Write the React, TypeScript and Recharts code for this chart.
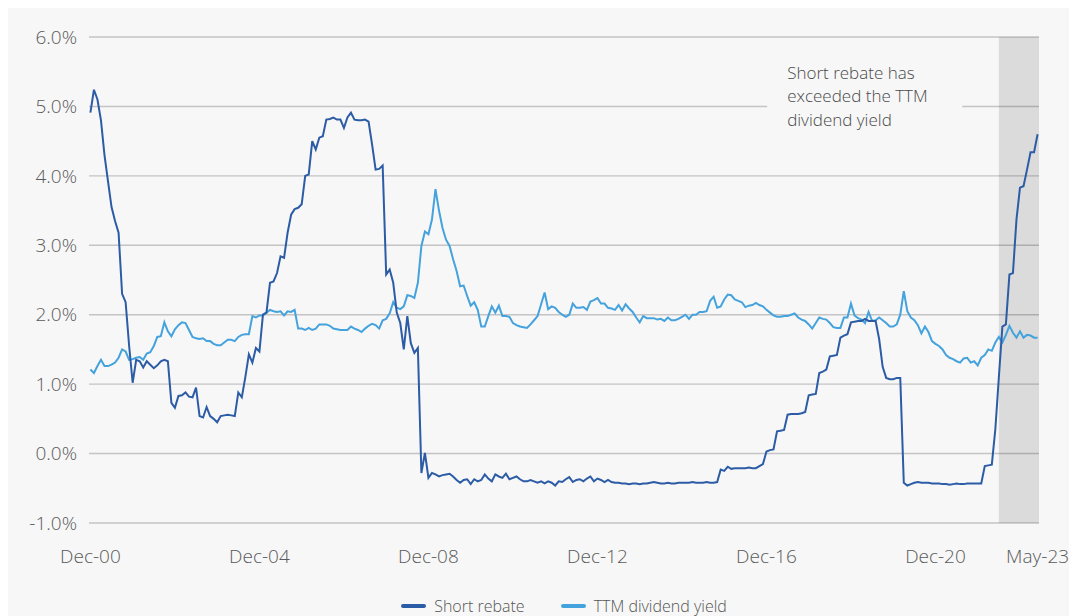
import { LineChart, Line, XAxis, YAxis, CartesianGrid, ReferenceArea, Legend } from 'recharts';

// monthly, Dec-00 (index 0) to May-23 (index 269)
const shortRebate = [
    4.91, 5.24, 5.10, 4.80, 4.30, 3.92, 3.55, 3.35, 3.18, 2.30, 2.18, 1.55,
    1.02, 1.35, 1.33, 1.24, 1.33, 1.28, 1.23, 1.27, 1.33, 1.35, 1.33, 0.73,
    0.66, 0.83, 0.84, 0.88, 0.82, 0.81, 0.95, 0.54, 0.52, 0.67, 0.54, 0.50,
    0.45, 0.54, 0.55, 0.56, 0.55, 0.54, 0.88, 0.81, 1.10, 1.43, 1.31, 1.52,
    1.47, 2.00, 2.03, 2.46, 2.48, 2.60, 2.84, 2.82, 3.18, 3.44, 3.52, 3.54,
    3.59, 4.00, 4.02, 4.50, 4.38, 4.55, 4.57, 4.81, 4.82, 4.84, 4.81, 4.81,
    4.69, 4.84, 4.91, 4.81, 4.80, 4.80, 4.81, 4.78, 4.45, 4.09, 4.10, 4.15,
    2.58, 2.65, 2.46, 2.03, 1.88, 1.50, 1.98, 1.59, 1.45, 1.52, -0.28, 0.01,
    -0.35, -0.28, -0.30, -0.33, -0.31, -0.30, -0.29, -0.33, -0.38, -0.42, -0.38, -0.37,
    -0.44, -0.37, -0.40, -0.38, -0.30, -0.36, -0.40, -0.30, -0.33, -0.35, -0.29, -0.37,
    -0.35, -0.33, -0.37, -0.40, -0.40, -0.38, -0.40, -0.42, -0.40, -0.43, -0.40, -0.42,
    -0.46, -0.40, -0.41, -0.37, -0.34, -0.41, -0.38, -0.37, -0.40, -0.36, -0.33, -0.40,
    -0.36, -0.38, -0.41, -0.38, -0.41, -0.42, -0.42, -0.43, -0.43, -0.44, -0.43, -0.43,
    -0.44, -0.43, -0.43, -0.42, -0.41, -0.42, -0.43, -0.43, -0.42, -0.43, -0.43, -0.42,
    -0.42, -0.42, -0.42, -0.41, -0.42, -0.42, -0.42, -0.41, -0.42, -0.42, -0.41, -0.23,
    -0.25, -0.19, -0.22, -0.21, -0.21, -0.21, -0.21, -0.20, -0.21, -0.21, -0.18, -0.15,
    0.03, 0.05, 0.06, 0.32, 0.33, 0.34, 0.56, 0.57, 0.57, 0.57, 0.58, 0.60,
    0.84, 0.85, 0.86, 1.16, 1.18, 1.21, 1.40, 1.41, 1.42, 1.67, 1.70, 1.72,
    1.89, 1.90, 1.91, 1.91, 1.94, 1.91, 1.91, 1.91, 1.65, 1.25, 1.09, 1.07,
    1.07, 1.09, 1.09, -0.42, -0.46, -0.44, -0.42, -0.41, -0.42, -0.42, -0.42, -0.43,
    -0.43, -0.43, -0.44, -0.44, -0.45, -0.44, -0.43, -0.44, -0.44, -0.43, -0.43, -0.43,
    -0.43, -0.43, -0.18, -0.17, -0.16, 0.35, 1.10, 1.83, 1.86, 2.58, 2.60, 3.37,
    3.83, 3.85, 4.09, 4.34, 4.34, 4.60,
];

const ttmYield = [
    1.21, 1.16, 1.26, 1.35, 1.26, 1.26, 1.28, 1.31, 1.38, 1.50, 1.47, 1.35,
    1.36, 1.38, 1.39, 1.35, 1.44, 1.46, 1.55, 1.68, 1.69, 1.89, 1.76, 1.69,
    1.79, 1.85, 1.89, 1.88, 1.78, 1.68, 1.66, 1.65, 1.66, 1.62, 1.62, 1.58,
    1.56, 1.56, 1.60, 1.64, 1.64, 1.62, 1.68, 1.71, 1.72, 1.72, 1.98, 1.96,
    1.99, 1.99, 2.03, 2.07, 2.05, 2.04, 2.05, 1.99, 2.05, 2.04, 2.07, 1.80,
    1.80, 1.78, 1.81, 1.78, 1.80, 1.86, 1.86, 1.86, 1.84, 1.80, 1.79, 1.78,
    1.78, 1.78, 1.83, 1.80, 1.78, 1.75, 1.80, 1.84, 1.87, 1.85, 1.80, 1.92,
    1.94, 2.02, 2.18, 2.10, 2.08, 2.12, 2.28, 2.27, 2.24, 2.46, 2.99, 3.20,
    3.16, 3.37, 3.81, 3.50, 3.25, 3.08, 2.99, 2.80, 2.63, 2.41, 2.42, 2.27,
    2.13, 2.18, 2.07, 1.83, 1.83, 1.98, 2.12, 2.03, 2.13, 1.98, 1.98, 1.97,
    1.88, 1.85, 1.83, 1.82, 1.81, 1.86, 1.92, 1.98, 2.15, 2.32, 2.08, 2.12,
    2.10, 2.04, 2.00, 1.97, 2.00, 2.16, 2.10, 2.10, 2.11, 2.07, 2.19, 2.21,
    2.24, 2.16, 2.16, 2.10, 2.09, 2.07, 2.14, 2.06, 2.15, 2.09, 2.04, 1.96,
    1.89, 1.98, 1.95, 1.95, 1.95, 1.93, 1.94, 1.91, 1.96, 1.92, 1.92, 1.94,
    1.97, 2.00, 1.94, 2.00, 2.00, 2.04, 2.04, 2.05, 2.20, 2.26, 2.10, 2.12,
    2.22, 2.29, 2.28, 2.22, 2.20, 2.18, 2.11, 2.13, 2.14, 2.17, 2.14, 2.12,
    2.07, 2.03, 1.99, 1.97, 1.97, 1.98, 1.98, 2.00, 2.02, 1.96, 1.93, 1.91,
    1.86, 1.80, 1.88, 1.96, 1.94, 1.93, 1.88, 1.82, 1.81, 1.81, 1.96, 1.96,
    2.16, 1.99, 1.95, 1.93, 1.88, 2.04, 1.91, 1.92, 1.96, 1.92, 1.88, 1.83,
    1.83, 1.86, 2.00, 2.34, 2.05, 1.96, 1.92, 1.85, 1.73, 1.83, 1.75, 1.62,
    1.58, 1.55, 1.50, 1.42, 1.38, 1.36, 1.33, 1.31, 1.37, 1.38, 1.31, 1.33,
    1.27, 1.38, 1.42, 1.50, 1.48, 1.60, 1.68, 1.60, 1.71, 1.84, 1.74, 1.67,
    1.76, 1.67, 1.71, 1.70, 1.67, 1.67,
];

const tickMonths = [0, 48, 96, 144, 192, 240, 269];
const tickLabels = ['Dec-00', 'Dec-04', 'Dec-08', 'Dec-12', 'Dec-16', 'Dec-20', 'May-23'];
const yTicks = [-1, 0, 1, 2, 3, 4, 5, 6];

const shadeStart = 258; // Jun-22
const noteLines = ['Short rebate has', 'exceeded the TTM', 'dividend yield'];

const DARK = '#2c5ca6';
const LIGHT = '#44a2dd';
const BG = '#f7f7f7';
const FONT = '"Open Sans", sans-serif';

const data = shortRebate.map((v, i) => ({ m: i, rebate: v, yield: ttmYield[i] }));

const Note = (props: any) => {
    const { viewBox } = props;
    const x = viewBox.x + 20;
    const y = viewBox.y;
    return (
        <text x={x} y={y - 23} fill="#4a4a4a" fontSize={17} fontWeight={300} fontFamily={FONT}>
            {noteLines.map((t, i) => (
                <tspan key={t} x={x} y={y - 23 + i * 23.5}>{t}</tspan>
            ))}
        </text>
    );
};

const LegendBox = () => (
    <div style={{ display: 'flex', justifyContent: 'center', gap: 36, fontFamily: FONT, fontWeight: 300, fontSize: 16, color: '#555' }}>
        {[['Short rebate', DARK], ['TTM dividend yield', LIGHT]].map(([name, c]) => (
            <div key={name} style={{ display: 'flex', alignItems: 'center' }}>
                <span style={{ width: 25, height: 4, borderRadius: 2, background: c, marginRight: 8, display: 'inline-block' }} />
                {name}
            </div>
        ))}
    </div>
);

export default function App() {
    return (
        <div style={{ position: 'absolute', left: 8, top: 8, width: 1061, height: 608, background: BG, overflow: 'hidden' }}>
            <LineChart width={1061} height={608} data={data} margin={{ top: 29, right: 30, left: 0, bottom: 43 }}>
                <CartesianGrid vertical={false} stroke="#c4c4c4" strokeWidth={1.4} />
                <ReferenceArea x1={shadeStart} x2={269.4} y1={-1} y2={6} fill="#000" fillOpacity={0.11} stroke="none" />
                <ReferenceArea x1={192.2} x2={247.6} y1={4.93} y2={5.07} fill={BG} fillOpacity={1} stroke="none" label={<Note />} />
                <XAxis
                    dataKey="m"
                    type="number"
                    domain={[-0.4, 269.4]}
                    ticks={tickMonths}
                    interval={0}
                    tickFormatter={(v: number) => tickLabels[tickMonths.indexOf(v)]}
                    axisLine={false}
                    tickLine={false}
                    tickSize={0}
                    tickMargin={27}
                    height={50}
                    tick={{ fill: '#5a5a5a', fontSize: 19, fontWeight: 300, fontFamily: FONT }}
                />
                <YAxis
                    domain={[-1, 6]}
                    ticks={yTicks}
                    tickFormatter={(v: number) => v.toFixed(1) + '%'}
                    axisLine={false}
                    tickLine={false}
                    tickSize={0}
                    tickMargin={12}
                    width={81}
                    tick={{ fill: '#5a5a5a', fontSize: 19, fontWeight: 300, fontFamily: FONT }}
                />
                <Line type="linear" dataKey="yield" name="TTM dividend yield" stroke={LIGHT} strokeWidth={2} dot={false} isAnimationActive={false} />
                <Line type="linear" dataKey="rebate" name="Short rebate" stroke={DARK} strokeWidth={2} dot={false} isAnimationActive={false} />
                <Legend
                    layout="horizontal"
                    verticalAlign="middle"
                    align="center"
                    wrapperStyle={{ top: 587, left: 81, width: 950 }}
                    content={() => <LegendBox />}
                />
            </LineChart>
        </div>
    );
}
